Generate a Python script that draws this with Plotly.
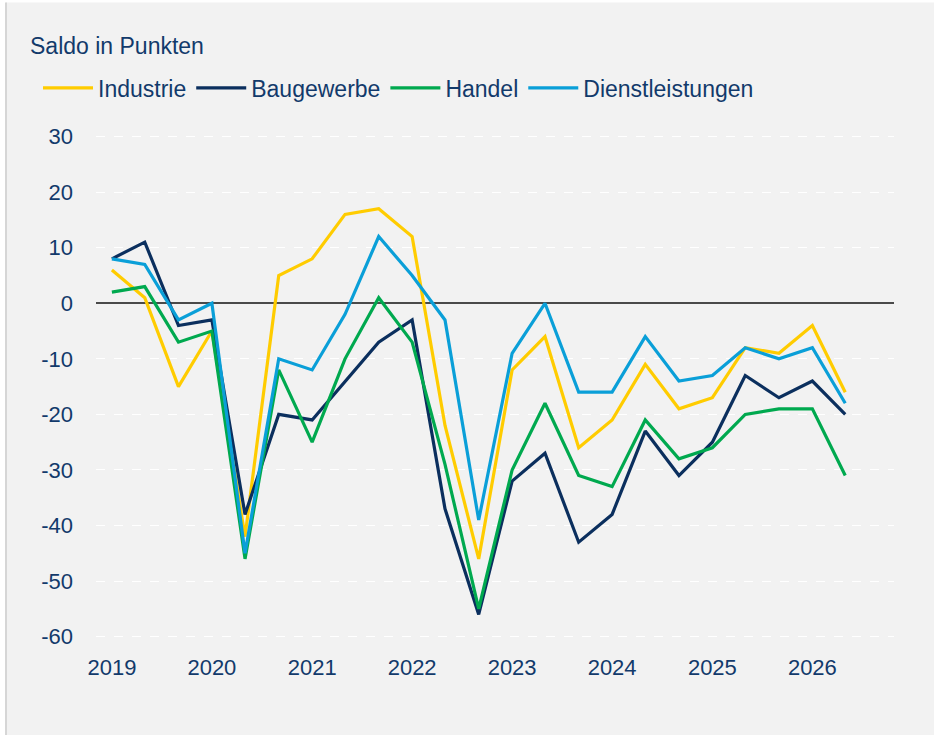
import plotly.graph_objects as go

# ---- data ----
periods = ["2019-01-01", "2019-05-01", "2019-09-01",
           "2020-01-01", "2020-05-01", "2020-09-01",
           "2021-01-01", "2021-05-01", "2021-09-01",
           "2022-01-01", "2022-05-01", "2022-09-01",
           "2023-01-01", "2023-05-01", "2023-09-01",
           "2024-01-01", "2024-05-01", "2024-09-01",
           "2025-01-01", "2025-05-01", "2025-09-01",
           "2026-01-01", "2026-05-01"]
industrie = [6, 1, -15, -5, -42, 5, 8, 16, 17, 12, -22, -46, -12, -6, -26, -21, -11, -19, -17, -8, -9, -4, -16]
baugewerbe = [8, 11, -4, -3, -38, -20, -21, -14, -7, -3, -37, -56, -32, -27, -43, -38, -23, -31, -25, -13, -17, -14, -20]
handel = [2, 3, -7, -5, -46, -12, -25, -10, 1, -7, -29, -55, -30, -18, -31, -33, -21, -28, -26, -20, -19, -19, -31]
dienstleistungen = [8, 7, -3, 0, -45, -10, -12, -2, 12, 5, -3, -39, -9, 0, -16, -16, -6, -14, -13, -8, -10, -8, -18]

series_names = ["Industrie", "Baugewerbe", "Handel", "Dienstleistungen"]
series_values = [industrie, baugewerbe, handel, dienstleistungen]
colors = ["#ffcc00", "#0b2f5e", "#00a94f", "#0a9fd8"]

y_ticks = [30, 20, 10, 0, -10, -20, -30, -40, -50, -60]
y_ticklabels = ["30", "20", "10", "0", "-10", "-20", "-30", "-40", "-50", "-60"]
x_ticks = ["2019-01-01", "2020-01-01", "2021-01-01", "2022-01-01",
           "2023-01-01", "2024-01-01", "2025-01-01", "2026-01-01"]
x_ticklabels = ["2019", "2020", "2021", "2022", "2023", "2024", "2025", "2026"]

TEXT = "#123a6b"
FONT = "Liberation Sans, Arial, sans-serif"

fig = go.Figure()
for name, vals, col in zip(series_names, series_values, colors):
    fig.add_trace(go.Scatter(x=periods, y=vals, mode="lines", name=name,
                             line=dict(color=col, width=3.2)))

fig.update_layout(
    width=934, height=735,
    margin=dict(l=96, r=40, t=131, b=90),
    paper_bgcolor="#ffffff",
    plot_bgcolor="#f2f2f2",
    title=dict(text="Saldo in Punkten", xref="container", x=30 / 934, xanchor="left",
               yref="container", y=1 - 46 / 735, yanchor="middle",
               font=dict(family=FONT, size=23, color=TEXT)),
    legend=dict(orientation="h", xref="container", yref="container",
                x=38 / 934, xanchor="left", y=1 - 88 / 735, yanchor="middle",
                font=dict(family=FONT, size=23, color=TEXT),
                bgcolor="rgba(0,0,0,0)", itemwidth=50, tracegroupgap=0),
    xaxis=dict(type="date", range=["2018-11-04", "2026-10-26"], automargin=False,
               tickvals=x_ticks, ticktext=x_ticklabels,
               showgrid=False, zeroline=False, showline=False, ticks="",
               ticklabelstandoff=7,
               tickfont=dict(family=FONT, size=22, color=TEXT)),
    yaxis=dict(range=[-61.5, 31], tickvals=y_ticks, ticktext=y_ticklabels,
               automargin=False,
               showgrid=True, gridcolor="#ffffff", gridwidth=1, griddash="dash",
               zeroline=True, zerolinecolor="#4a4a4a", zerolinewidth=2,
               showline=False, ticks="", ticklabelstandoff=22,
               tickfont=dict(family=FONT, size=22, color=TEXT)),
    shapes=[dict(type="rect", xref="paper", yref="paper",
                 x0=(6 - 96) / 798, x1=(934 - 96) / 798 + 0.01,
                 y0=-0.2, y1=(645.3 - 3) / 513.9,
                 fillcolor="#f2f2f2", line=dict(width=0), layer="below"),
            dict(type="line", xref="paper", yref="paper",
                 x0=(6 - 96) / 798, x1=(6 - 96) / 798,
                 y0=-0.2, y1=(645.3 - 3) / 513.9,
                 line=dict(color="#d6d6d6", width=2), layer="below")],
)

fig.write_html("out.html", config={"displayModeBar": False},
               post_script="document.body.style.margin='0';")
